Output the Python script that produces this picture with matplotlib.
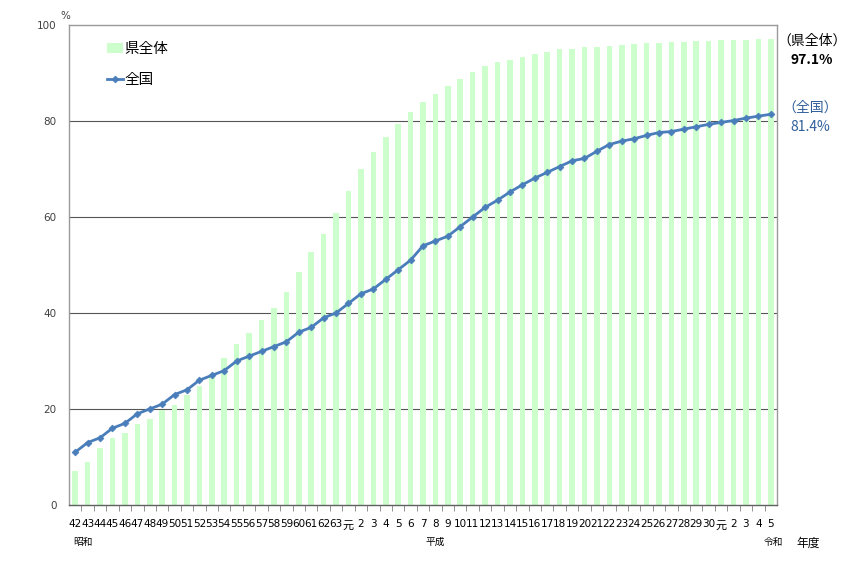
import matplotlib
matplotlib.use('Agg')
import matplotlib.pyplot as plt
import matplotlib.transforms as mtransforms
import numpy as np

plt.rcParams['font.family'] = ['Noto Sans CJK JP', 'DejaVu Sans']
num_font = ['DejaVu Sans', 'Noto Sans CJK JP']

# 年度ラベル (昭和42～63, 平成元～30, 令和元～5)
years = ([str(y) for y in range(42, 64)]
         + ['元'] + [str(y) for y in range(2, 31)]
         + ['元'] + [str(y) for y in range(2, 6)])

# 県全体 (%)
pref = [7.0, 8.9, 11.8, 13.9, 14.9, 16.9, 18.0, 19.8, 20.8, 22.9,
        24.8, 26.9, 30.6, 33.5, 35.8, 38.5, 41.0, 44.4, 48.5, 52.7,
        56.5, 60.8, 65.5, 69.9, 73.6, 76.6, 79.4, 81.9, 83.9, 85.6,
        87.3, 88.8, 90.3, 91.5, 92.2, 92.8, 93.3, 93.9, 94.4, 94.9,
        95.1, 95.4, 95.5, 95.7, 95.8, 96.0, 96.2, 96.2, 96.4, 96.5,
        96.6, 96.6, 96.8, 96.8, 96.9, 97.0, 97.1]

# 全国 (%)
nation = [11.0, 13.0, 14.0, 16.0, 17.0, 19.0, 20.0, 21.0, 23.0, 24.0,
          26.0, 27.0, 28.0, 30.0, 31.0, 32.0, 33.0, 34.0, 36.0, 37.0,
          39.0, 40.0, 42.0, 44.0, 45.0, 47.0, 49.0, 51.0, 54.0, 55.0,
          56.0, 58.0, 60.0, 62.0, 63.5, 65.2, 66.7, 68.1, 69.3, 70.5,
          71.7, 72.2, 73.7, 75.1, 75.8, 76.3, 77.0, 77.6, 77.8, 78.3,
          78.8, 79.3, 79.7, 80.1, 80.6, 81.0, 81.4]

x = np.arange(len(years))

fig = plt.figure(figsize=(8.58, 5.73), dpi=100)
ax = fig.add_axes([0.0804, 0.1187, 0.8252, 0.8377])

# 目盛線 (棒の後ろ)
for g in [20, 40, 60, 80]:
    ax.axhline(g, color='#555555', lw=0.8, zorder=1)

bars = ax.bar(x, pref, width=0.45, color='#ccffcc', label='県全体', zorder=2)
line, = ax.plot(x, nation, color='#4a7ebb', lw=2, marker='D', ms=3.5,
                markeredgewidth=0.5, label='全国', zorder=3)

ax.set_xlim(-0.5, len(years) - 0.5)
ax.set_ylim(0, 100)
ax.set_yticks([0, 20, 40, 60, 80, 100])
ax.tick_params(axis='y', length=0, pad=9, labelsize=7.5, labelcolor='#404040')
for lbl in ax.get_yticklabels():
    lbl.set_family(num_font)

ax.set_xticks(x)
ax.set_xticklabels(years)
ax.tick_params(axis='x', which='major', length=0, pad=10, labelsize=7.5)
ax.set_xticks(x[:-1] + 0.5, minor=True)
ax.tick_params(axis='x', which='minor', length=4, color='#808080', direction='out')
for lbl in ax.get_xticklabels():
    lbl.set_family(num_font)
    if lbl.get_text() == '元':
        lbl.set_fontsize(8)
        lbl.set_y(-0.004)

for s in ax.spines.values():
    s.set_color('#9a9a9a')
    s.set_linewidth(1)
ax.spines['bottom'].set_color('#606060')

# 元号ラベル
trans = mtransforms.blended_transform_factory(ax.transData, ax.transAxes)
ax.text(0.6, -0.077, '昭和', transform=trans, ha='center', va='center', fontsize=7)
ax.text(29.0, -0.077, '平成', transform=trans, ha='center', va='center', fontsize=7)
ax.text(56.2, -0.077, '令和', transform=trans, ha='center', va='center', fontsize=7)
ax.text(59.0, -0.080, '年度', transform=trans, ha='center', va='center', fontsize=8.5,
        clip_on=False)

fig.text(65 / 858, 1 - 16 / 573, '%', ha='center', va='center', fontsize=7.5,
         color='#404040', family=num_font)

# 右側の注記
fig.text(812 / 858, 1 - 41 / 573, '（県全体）', ha='center', va='center', fontsize=10)
fig.text(812 / 858, 1 - 60 / 573, f'{pref[-1]:.1f}%', ha='center', va='center',
         fontsize=10, fontweight='bold')
fig.text(810 / 858, 1 - 108 / 573, '（全国）', ha='center', va='center', fontsize=10,
         color='#2f5f9a')
fig.text(810 / 858, 1 - 127 / 573, f'{nation[-1]:.1f}%', ha='center', va='center',
         fontsize=10, color='#2f5f9a')

ax.legend(handles=[bars, line], loc='upper left', bbox_to_anchor=(0.054, 0.965),
          frameon=False, fontsize=10.5, handlelength=1.1, handletextpad=0.1,
          labelspacing=1.2, borderaxespad=0, borderpad=0)

fig.savefig('out.png', dpi=100)
